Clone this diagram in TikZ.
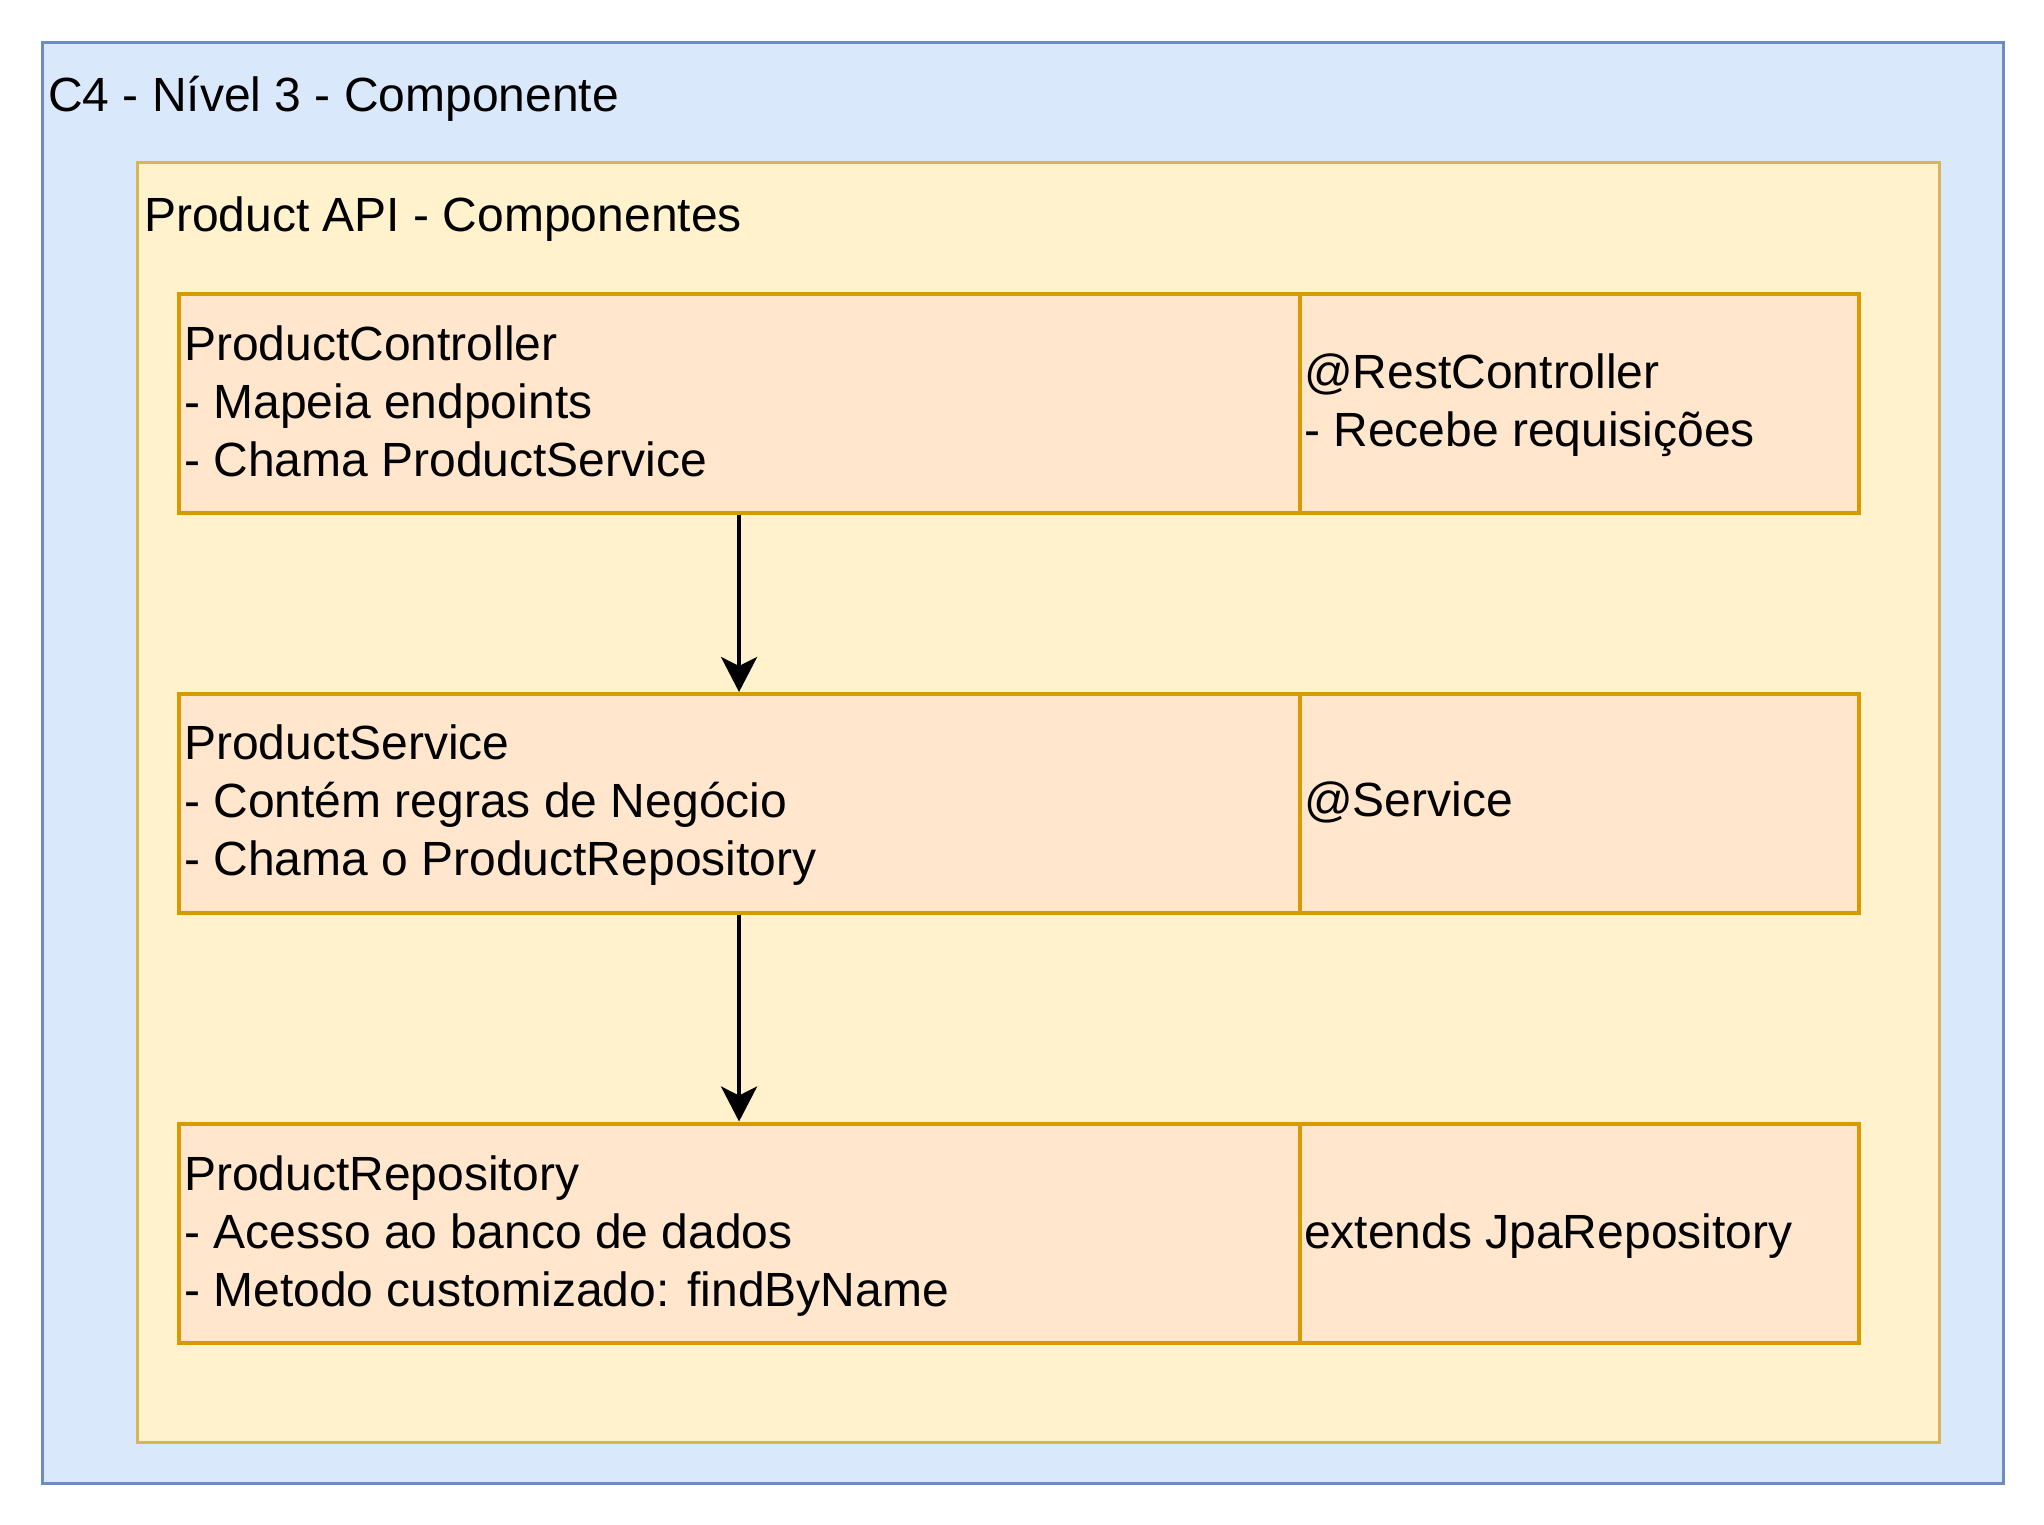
\documentclass[tikz,border=0pt]{standalone}
\usepackage{fontspec}
\setmainfont{Liberation Sans}
\usetikzlibrary{arrows.meta}
\definecolor{bluefill}{HTML}{DAE8FC}
\definecolor{blueline}{HTML}{6C8EBF}
\definecolor{yelfill}{HTML}{FFF2CC}
\definecolor{yelline}{HTML}{D6B656}
\definecolor{orafill}{HTML}{FFE6CC}
\definecolor{oraline}{HTML}{D79B00}
\tikzset{
  outerbox/.style={draw=blueline, fill=bluefill, line width=3pt, rectangle, inner sep=0pt, anchor=north west},
  yelbox/.style={draw=yelline, fill=yelfill, line width=3pt, rectangle, inner sep=0pt, anchor=north west},
  compbox/.style={draw=oraline, fill=orafill, line width=4pt, rectangle, inner sep=0pt, anchor=north west, minimum height=219pt},
  lbl/.style={anchor=west, inner sep=0pt, align=left, font=\fontsize{48}{58}\selectfont},
  flow/.style={-{Stealth[length=35pt, width=36pt, inset=9pt]}, line width=4pt, black}
}
\begin{document}
\begin{tikzpicture}[x=1pt,y=-1pt]
\useasboundingbox (0,0) rectangle (2044,1524);
\fill[white] (0,0) rectangle (2044,1524);
\node[outerbox, minimum width=1960.6pt, minimum height=1440.5pt] (outer) at (41,41) {};
\node[lbl] (outerTitle) at (48,99) {C4 - Nível 3 - Componente};
\node[yelbox, minimum width=1801.6pt, minimum height=1280.2pt] (api) at (136,161) {};
\node[lbl] (apiTitle) at (144,219) {Product API - Componentes};
% row 1
\node[compbox, minimum width=1121.1pt] (ctrl) at (176.5,292) {};
\node[compbox, minimum width=559.2pt] (ctrlR) at (1297.6,292) {};
\node[lbl] (ctrlText) at (184,401) {ProductController\\- Mapeia endpoints\\- Chama ProductService};
\node[lbl] (ctrlRText) at (1304,405) {@RestController\\- Recebe requisições};
% row 2
\node[compbox, minimum width=1121.1pt] (svc) at (176.5,692) {};
\node[compbox, minimum width=559.2pt] (svcR) at (1297.6,692) {};
\node[lbl] (svcText) at (184,805) {ProductService\\- Contém regras de Negócio\\- Chama o ProductRepository};
\node[lbl] (svcRText) at (1304,802) {@Service};
% row 3
\node[compbox, minimum width=1121.1pt] (repo) at (176.5,1121.5) {};
\node[compbox, minimum width=559.2pt] (repoR) at (1297.6,1121.5) {};
\node[lbl] (repoText) at (184,1236) {ProductRepository\\- Acesso ao banco de dados\\- Metodo customizado: findByName};
\node[lbl] (repoRText) at (1304,1236) {extends JpaRepository};
% arrows
\draw[flow] (ctrl.south) -- (svc.north);
\draw[flow] (svc.south) -- (repo.north);
\end{tikzpicture}
\end{document}
